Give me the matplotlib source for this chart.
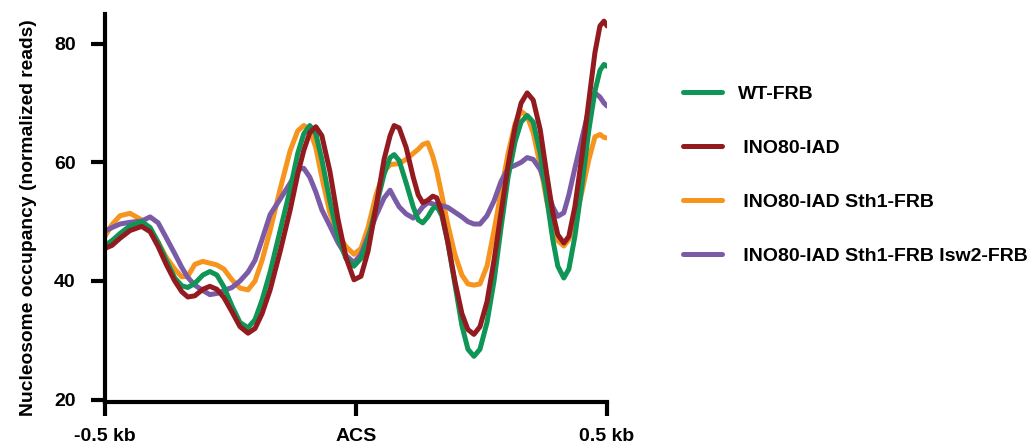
import matplotlib
matplotlib.use("Agg")
import matplotlib.pyplot as plt

plt.rcParams['font.family'] = ['Liberation Sans', 'DejaVu Sans']
plt.rcParams['font.weight'] = 'bold'

# position relative to the ACS (bp), shared by all four profiles
pos_bp = [-500, -486, -470, -450, -427, -410, -394, -378, -361, -347, -335, -321, -305, -291,
          -277, -263, -247, -231, -215, -201, -187, -171, -151, -131, -116, -104, -92, -80,
          -68, -52, -36, -20, -4, 10, 24, 40, 56, 68, 76, 86, 100, 114, 124, 133, 143, 153,
          161, 171, 183, 197, 211, 223, 235, 247, 261, 275, 289, 303, 317, 329, 341, 353,
          367, 380, 392, 402, 414, 424, 436, 450, 464, 476, 486, 494, 500]

# nucleosome occupancy (normalized reads)
wt_frb = [46.0, 46.8, 48.0, 49.3, 50.0, 49.0, 46.5, 43.5, 40.5, 39.2, 38.9, 39.6, 41.0, 41.6,
          41.0, 39.0, 35.8, 33.0, 32.1, 33.5, 36.8, 41.5, 48.5, 55.5, 61.5, 64.8, 66.2, 64.8,
          60.5, 53.5, 47.5, 43.8, 42.5, 43.8, 47.0, 52.5, 58.0, 60.8, 61.3, 60.3, 56.5, 52.5,
          50.3, 49.8, 50.8, 52.2, 52.6, 51.0, 46.5, 39.5, 32.5, 28.5, 27.3, 28.5, 33.0, 40.0,
          49.0, 57.5, 63.5, 66.8, 67.9, 66.8, 61.5, 54.0, 47.0, 42.5, 40.5, 42.0, 47.5, 56.0,
          65.5, 72.0, 75.5, 76.5, 76.2]

ino80_iad = [45.5, 46.0, 47.2, 48.5, 49.2, 48.3, 45.8, 42.8, 40.0, 38.2, 37.3, 37.5, 38.6, 39.1,
             38.6, 37.2, 34.8, 32.3, 31.2, 32.0, 34.5, 38.5, 45.0, 52.0, 58.0, 62.0, 65.0, 66.0,
             64.5, 58.5, 50.5, 44.0, 40.2, 40.8, 45.0, 52.5, 60.5, 64.5, 66.2, 65.8, 62.5, 57.5,
             54.5, 53.2, 53.6, 54.3, 54.0, 51.5, 46.5, 40.0, 34.5, 31.8, 31.0, 32.3, 36.5, 43.5,
             51.5, 59.5, 66.0, 70.0, 71.7, 70.5, 65.5, 58.0, 51.5, 47.8, 46.4, 47.5, 52.5, 61.0,
             70.5, 78.5, 83.0, 83.8, 83.0]

sth1_frb = [47.5, 49.5, 51.0, 51.4, 50.3, 48.7, 46.5, 44.0, 42.0, 40.7, 40.8, 42.8, 43.3, 43.0,
            42.7, 42.0, 40.2, 38.8, 38.5, 40.0, 43.5, 48.5, 55.5, 62.0, 65.3, 66.2, 65.5, 62.5,
            57.5, 51.5, 48.0, 45.8, 44.5, 45.5, 49.0, 54.5, 58.5, 59.6, 59.7, 59.8, 60.5, 61.5,
            62.2, 63.0, 63.3, 61.0, 58.5, 54.5, 49.5, 44.5, 41.0, 39.5, 39.3, 39.5, 42.5, 48.5,
            55.0, 61.5, 66.5, 68.6, 67.8, 65.0, 59.5, 53.5, 49.0, 46.8, 45.9, 47.0, 50.0, 55.0,
            60.5, 64.3, 64.7, 64.2, 64.1]

isw2_frb = [48.4, 49.0, 49.6, 49.9, 50.1, 50.8, 49.8, 47.3, 44.6, 42.3, 40.6, 39.3, 38.4, 37.7,
            37.9, 38.4, 38.9, 40.0, 41.5, 43.5, 47.0, 51.2, 53.8, 56.5, 58.8, 59.0, 57.5, 55.0,
            52.0, 49.3, 46.5, 44.3, 43.1, 44.5, 47.5, 51.0, 54.0, 55.3, 54.0, 52.5, 51.3, 50.6,
            51.5, 52.5, 53.2, 53.0, 52.8, 52.7, 52.4, 51.6, 50.8, 50.0, 49.6, 49.6, 51.0, 53.5,
            56.8, 59.0, 59.5, 60.0, 60.8, 60.5, 58.8, 55.5, 52.5, 50.9, 51.5, 54.5, 59.0, 64.0,
            69.0, 71.7, 71.0, 70.0, 69.5]

labels = ['WT-FRB', ' INO80-IAD', ' INO80-IAD Sth1-FRB', ' INO80-IAD Sth1-FRB Isw2-FRB']
colors = ['#0f9556', '#931b1f', '#f7941d', '#7b5ba6']

fig = plt.figure(figsize=(10.33, 4.48), dpi=100)
ax = fig.add_axes([0.1016, 0.1027, 0.486, 0.866])

kw = dict(lw=3.6, solid_joinstyle='round', solid_capstyle='round')
l3, = ax.plot(pos_bp, sth1_frb, color=colors[2], **kw)
l4, = ax.plot(pos_bp, isw2_frb, color=colors[3], **kw)
l1, = ax.plot(pos_bp, wt_frb, color=colors[0], **kw)
l2, = ax.plot(pos_bp, ino80_iad, color=colors[1], **kw)

ax.set_xlim(-500, 500)
ax.set_ylim(19.6, 85)
ax.set_yticks([20, 40, 60, 80])
ax.set_xticks([-500, 0, 500])
ax.set_xticklabels(['-0.5 kb', 'ACS', '0.5 kb'])
ax.set_ylabel('Nucleosome occupancy (normalized reads)', fontsize=13.9, fontweight='bold')
ax.yaxis.set_label_coords(-0.135, 0.474)

for s in ['top', 'right']:
    ax.spines[s].set_visible(False)
for s in ['left', 'bottom']:
    ax.spines[s].set_linewidth(3)
ax.tick_params(width=3, length=10, labelsize=14)
ax.tick_params(axis='y', pad=11)
ax.tick_params(axis='x', pad=9)
for t in ax.get_xticklabels() + ax.get_yticklabels():
    t.set_fontweight('bold')

fig.legend([l1, l2, l3, l4], labels, loc='upper left', bbox_to_anchor=(0.661, 0.809),
           frameon=False, handlelength=2.0, handletextpad=0.85,
           labelspacing=1.87, borderpad=0, borderaxespad=0,
           prop={'weight': 'bold', 'size': 14})

fig.savefig('out.png', dpi=100)
